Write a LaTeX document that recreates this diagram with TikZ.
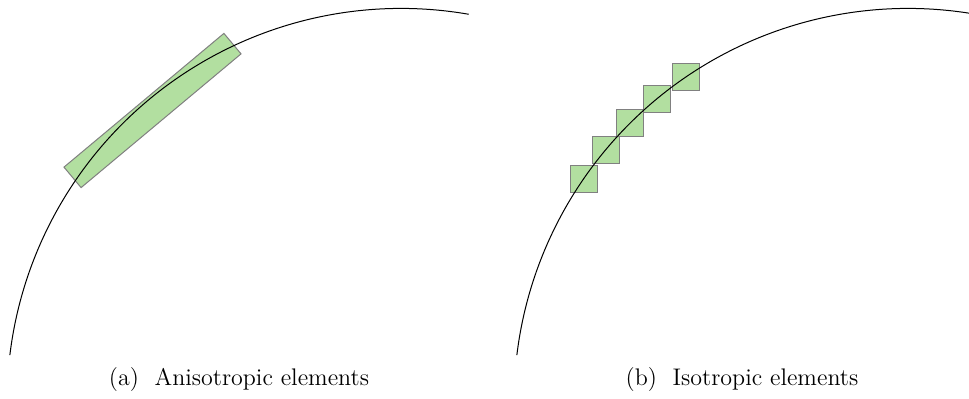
\documentclass[tikz,border=0pt]{standalone}
\usepackage{amsmath,amssymb}
\usepackage{tikz}
\usetikzlibrary{calc}
\definecolor{elemgreen}{RGB}{178,223,160}
\tikzset{elem/.style={fill=elemgreen,draw=gray,line width=0.5pt}}

\begin{document}
\begin{tikzpicture}[x=0.5pt,y=0.5pt,line width=0.5pt,font=\fontsize{12}{14}\selectfont]
  \useasboundingbox (0,0) rectangle (969,398);
  \coordinate (ca) at (401,-4.4);
  \coordinate (cb) at (908,-4.4);
  \draw[elem,rotate around={39.9:(152.5,287.5)}] (48.25,274.15) rectangle ++(208.5,26.7);
  \draw (ca) ++(173.1:394) arc[start angle=173.1,end angle=80.1,radius=394];
  \foreach \a in {124.3,129.6,134.9,140.1,145.4}
    \draw[elem] (cb) ++(\a:394) +(-13.35,-13.35) rectangle +(13.35,13.35);
  \draw (cb) ++(173.1:394) arc[start angle=173.1,end angle=81.1,radius=394];
  \node (capa) at (239,18) {(a)\ \ Anisotropic elements};
  \node (capb) at (742,18) {(b)\ \ Isotropic elements};
\end{tikzpicture}
\end{document}
